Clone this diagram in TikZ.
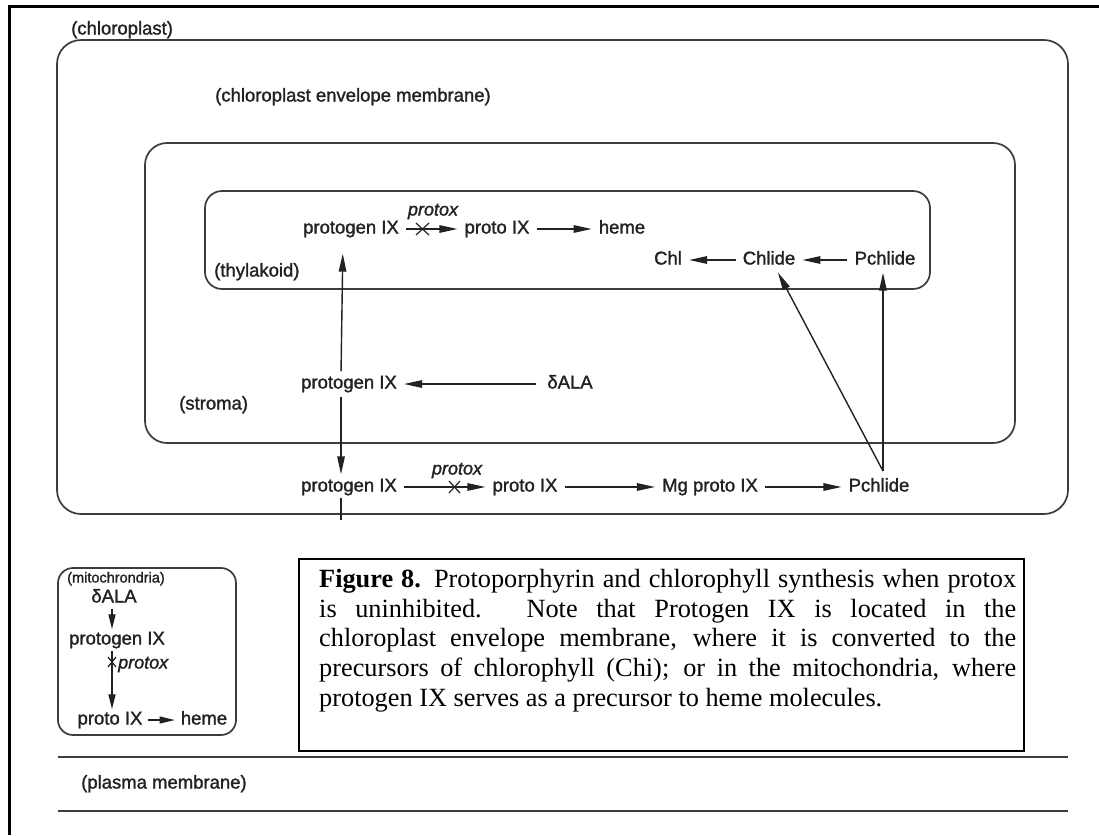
\documentclass[tikz,border=0pt]{standalone}
\usepackage{fontspec}
\setmainfont{Liberation Serif}
\newfontfamily\lsans[RawFeature={embolden=1.4}]{Liberation Sans}
\usetikzlibrary{arrows.meta,calc}
\definecolor{ink}{HTML}{222222}
\definecolor{memb}{HTML}{3C3C3C}
\begin{document}
\begin{tikzpicture}[x=1pt,y=-1pt,
  lbl/.style={font=\lsans\fontsize{18.5}{20}\selectfont, text=ink, inner xsep=5pt, inner ysep=2pt, text height=13pt, text depth=4pt},
  enz/.style={lbl, font=\lsans\itshape\fontsize{18}{20}\selectfont},
  small/.style={lbl, font=\lsans\fontsize{14.5}{16}\selectfont, text height=10pt, text depth=3pt},
  arr/.style={draw=ink, line width=1.4pt, -{Triangle[length=18pt,width=7.5pt]}, shorten >=2pt, shorten <=2pt},
  sarr/.style={draw=ink, line width=1.3pt, -{Triangle[length=15pt,width=7pt]}},
  membrane/.style={draw=memb, line width=1.7pt},
  xmark/.style={draw=ink, line width=1.2pt},
  frame/.style={draw=black, line width=3pt}
]
\useasboundingbox (0,0) rectangle (1099,835);
\fill[white] (0,0) rectangle (1099,835);
% outer frame
\draw[frame] (9,835) -- (9,6) -- (1099,6);

% compartments
\draw[membrane, rounded corners=24pt] (57,40) rectangle (1068,514);
\draw[membrane, rounded corners=22pt] (145,143) rectangle (1015,443);
\draw[membrane, rounded corners=17pt] (205,191) rectangle (930,289);

\node[lbl, anchor=west] (lchl) at (66,30) {(chloroplast)};
\node[lbl, anchor=west] (lenv) at (210,97) {(chloroplast envelope membrane)};
\node[lbl, anchor=west] (lthy) at (209,272) {(thylakoid)};
\node[lbl, anchor=west] (lstr) at (174,405) {(stroma)};

% thylakoid row
\node[lbl] (t1) at (351,229) {protogen IX};
\node[enz] (tp) at (433,211) {protox};
\node[lbl] (t2) at (497,229) {proto IX};
\node[lbl] (t3) at (622,229) {heme};
\draw[arr] (t1) -- (t2);
\draw[xmark] (416,223) -- (429,235) (416,235) -- (429,223);
\draw[arr] (t2) -- (t3);

\node[lbl] (chl) at (668,260) {Chl};
\node[lbl] (chlide) at (769,260) {Chlide};
\node[lbl] (pcT) at (885,260) {Pchlide};
\draw[arr] (chlide) -- (chl);
\draw[arr] (pcT) -- (chlide);

% stroma row
\node[lbl] (s1) at (349,384) {protogen IX};
\node[lbl] (sala) at (570,384) {δALA};
\draw[arr, shorten <=6pt] (sala) -- (s1);
\draw[arr, shorten >=14pt] ([xshift=-8pt]s1.north) -- ([xshift=-8pt]t1.south);

% envelope row
\node[lbl] (b1) at (349,487) {protogen IX};
\node[enz] (bp) at (457,470) {protox};
\node[lbl] (b2) at (525,487) {proto IX};
\node[lbl] (b3) at (710,487) {Mg proto IX};
\node[lbl] (b4) at (879,487) {Pchlide};
\draw[arr] ([xshift=-8pt]s1.south) -- ([xshift=-8pt]b1.north);
\draw[arr] (b1) -- (b2);
\draw[xmark] (449,481) -- (460,493) (449,493) -- (460,481);
\draw[arr] (b2) -- (b3);
\draw[arr] (b3) -- (b4);
\coordinate (fork) at (883,471);
\draw[arr, shorten <=0pt] (fork) -- ([xshift=8pt]chlide.south);
\draw[arr, shorten <=0pt] (fork) -- (fork |- pcT.south);
\coordinate (tickTop) at ([xshift=-8pt]b1.south);
\coordinate (tickBot) at ($(tickTop)+(0,22)$);
\draw[draw=ink, line width=1.3pt] (tickTop) -- (tickBot);

% mitochondria
\draw[membrane, rounded corners=15pt] (58,568) rectangle (236,735);
\node[small] (lmito) at (116,579) {(mitochrondria)};
\node[lbl] (mala) at (114,598) {δALA};
\node[lbl] (mp) at (117,640) {protogen IX};
\node[enz, anchor=west, inner xsep=0pt] (mpx) at (118,664) {protox};
\node[lbl] (mpi) at (110,720) {proto IX};
\node[lbl] (mh) at (204,720) {heme};
\draw[sarr] (mala.south -| 112,0) -- (mp.north -| 112,0);
\draw[sarr] (mp.south -| 112,0) -- (mpi.north -| 112,0);
\draw[xmark] (108,657) -- (116,667) (108,667) -- (116,657);
\draw[sarr, shorten <=0pt, shorten >=1pt] (mpi) -- (mh);

% caption
\node[draw=black, line width=1.6pt, anchor=north west, minimum width=725pt, minimum height=192pt, inner sep=0pt] (capbox) at (298,558) {};
\node[anchor=north west, inner xsep=0pt, inner ysep=0pt, text width=697pt, align=justify, font=\fontsize{26.3}{29.7}\selectfont] (cap) at (319,569)
 {\textbf{Figure 8.} Protoporphyrin and chlorophyll synthesis when protox\linebreak
 is uninhibited. Note that Protogen IX is located in the\linebreak
 chloroplast envelope membrane, where it is converted to the\linebreak
 precursors of chlorophyll (Chi); or in the mitochondria, where\linebreak
 protogen IX serves as a precursor to heme molecules.};

% plasma membrane
\draw[membrane] (58,757) coordinate (pm1a) -- (1068,757) coordinate (pm1b);
\draw[membrane] (58,811) coordinate (pm2a) -- (1068,811) coordinate (pm2b);
\node[lbl, anchor=west] (lpm) at (76,784) {(plasma membrane)};
\end{tikzpicture}
\end{document}
